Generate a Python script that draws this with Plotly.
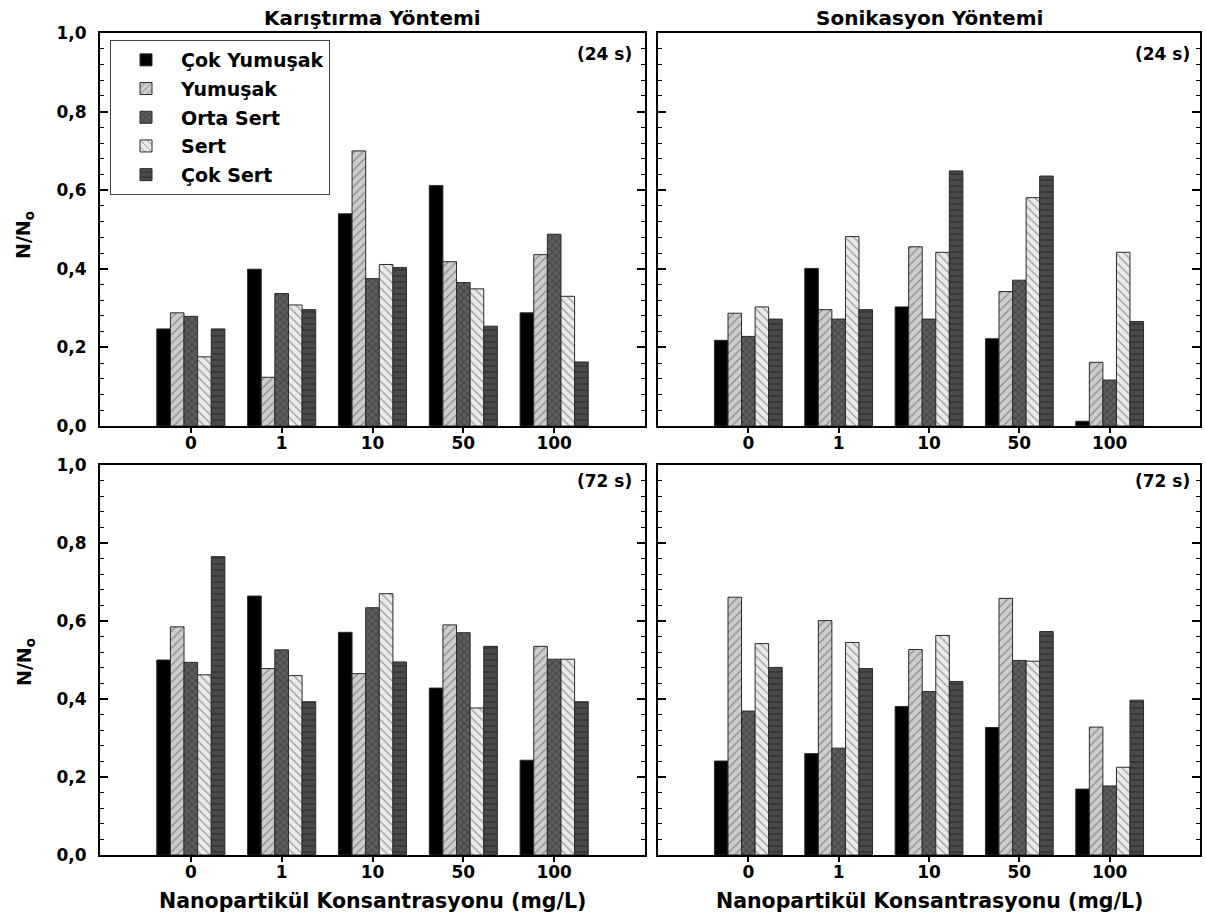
import plotly.graph_objects as go

categories = ["0", "1", "10", "50", "100"]
series_names = ["Çok Yumuşak", "Yumuşak", "Orta Sert", "Sert", "Çok Sert"]

# rows = series (in order of series_names), columns = categories
karistirma_24s = [
    [0.247, 0.399, 0.540, 0.612, 0.288],
    [0.288, 0.124, 0.700, 0.418, 0.436],
    [0.279, 0.337, 0.375, 0.365, 0.488],
    [0.176, 0.308, 0.411, 0.349, 0.330],
    [0.247, 0.296, 0.403, 0.254, 0.163],
]
sonikasyon_24s = [
    [0.218, 0.401, 0.303, 0.222, 0.012],
    [0.287, 0.296, 0.456, 0.342, 0.162],
    [0.228, 0.272, 0.272, 0.371, 0.117],
    [0.303, 0.482, 0.442, 0.581, 0.442],
    [0.272, 0.296, 0.649, 0.636, 0.266],
]
karistirma_72s = [
    [0.500, 0.664, 0.571, 0.428, 0.243],
    [0.585, 0.478, 0.465, 0.590, 0.535],
    [0.494, 0.526, 0.634, 0.570, 0.502],
    [0.462, 0.460, 0.670, 0.377, 0.502],
    [0.765, 0.393, 0.495, 0.535, 0.393],
]
sonikasyon_72s = [
    [0.241, 0.260, 0.381, 0.327, 0.169],
    [0.661, 0.601, 0.527, 0.658, 0.328],
    [0.369, 0.274, 0.419, 0.499, 0.177],
    [0.542, 0.545, 0.563, 0.497, 0.225],
    [0.481, 0.478, 0.445, 0.573, 0.397],
]

panel_titles = ["Karıştırma Yöntemi", "Sonikasyon Yöntemi"]
time_labels = ["(24 s)", "(72 s)"]
x_title = "Nanopartikül Konsantrasyonu (mg/L)"
y_title = "N/N<sub>o</sub>"

styles = [
    dict(color="#000000", pattern=dict(shape="")),
    dict(color="#c8c8c8", pattern=dict(shape="/", fgcolor="#444444", bgcolor="#cccccc", size=6, solidity=0.2)),
    dict(color="#555555", pattern=dict(shape="x", fgcolor="#1e1e1e", bgcolor="#5c5c5c", size=5, solidity=0.3)),
    dict(color="#e6e6e6", pattern=dict(shape="\\", fgcolor="#444444", bgcolor="#eaeaea", size=6, solidity=0.2)),
    dict(color="#444444", pattern=dict(shape="-", fgcolor="#1a1a1a", bgcolor="#4a4a4a", size=6, solidity=0.25)),
]

W, H = 1206, 919
xL = [100 / W, 645 / W]
xR = [658 / W, 1200 / W]
yT = [(H - 426) / H, (H - 33) / H]
yB = [(H - 855) / H, (H - 465) / H]

panels = [
    (karistirma_24s, "x", "y", xL, yT),
    (sonikasyon_24s, "x2", "y2", xR, yT),
    (karistirma_72s, "x3", "y3", xL, yB),
    (sonikasyon_72s, "x4", "y4", xR, yB),
]

FONT = "DejaVu Sans, Arial, sans-serif"

fig = go.Figure()
for pi, (data, xa, ya, xd, yd) in enumerate(panels):
    for si, name in enumerate(series_names):
        st = styles[si]
        fig.add_trace(go.Bar(
            x=categories, y=data[si], name=name, xaxis=xa, yaxis=ya,
            legendgroup=name, showlegend=(pi == 0),
            marker=dict(color=st["color"], pattern=st["pattern"],
                        line=dict(color="#2a2a2a", width=1)),
        ))

layout = dict(
    autosize=True,
    margin=dict(l=0, r=0, t=0, b=0, autoexpand=False),
    paper_bgcolor="white", plot_bgcolor="white",
    barmode="group", bargap=0.25, bargroupgap=0,
    separators=",.",
    font=dict(family=FONT, size=17, color="black", weight="bold"),
    showlegend=True,
    legend=dict(x=110 / W, y=(H - 40) / H, xanchor="left", yanchor="top",
                bgcolor="white", bordercolor="#444", borderwidth=1,
                font=dict(size=19, family=FONT, weight="bold"),
                itemwidth=60, tracegroupgap=1),
)

for pi, (data, xa, ya, xd, yd) in enumerate(panels):
    xkey = "xaxis" if pi == 0 else f"xaxis{pi + 1}"
    ykey = "yaxis" if pi == 0 else f"yaxis{pi + 1}"
    left = pi in (0, 2)
    layout[xkey] = dict(
        domain=xd, anchor=ya, type="category", range=[-1, 5], automargin=False,
        showline=True, linecolor="black", linewidth=2, mirror=True,
        ticks="outside", ticklen=5, tickwidth=1.5, tickcolor="black",
        ticklabelstandoff=-4,
        showgrid=False, zeroline=False,
        tickfont=dict(size=17, family=FONT, weight="bold"),
    )
    layout[ykey] = dict(
        domain=yd, anchor=xa, range=[0, 1.0], automargin=False,
        showline=True, linecolor="black", linewidth=2, mirror="ticks",
        ticks="inside", ticklen=8, tickwidth=1.5, tickcolor="black",
        dtick=0.2, tick0=0, tickformat=".1f",
        showticklabels=left, ticklabelstandoff=8,
        minor=dict(ticks="inside", dtick=0.04, ticklen=4, tickwidth=1.2, tickcolor="black"),
        showgrid=False, zeroline=False,
        tickfont=dict(size=17, family=FONT, weight="bold"),
    )

annotations = []
for ci, t in enumerate(panel_titles):
    xd = xL if ci == 0 else xR
    annotations.append(dict(text=t, x=(xd[0] + xd[1]) / 2, y=(H - 18) / H,
                            xref="paper", yref="paper", showarrow=False,
                            xanchor="center", yanchor="middle",
                            font=dict(size=20, family=FONT, weight="bold")))
    annotations.append(dict(text=x_title, x=(xd[0] + xd[1]) / 2, y=(H - 901) / H,
                            xref="paper", yref="paper", showarrow=False,
                            xanchor="center", yanchor="middle",
                            font=dict(size=20.5, family=FONT, weight="bold")))
for ri, t in enumerate(time_labels):
    yc = 54 if ri == 0 else 481
    for xr in (634 / W, 1192 / W):
        annotations.append(dict(text=t, x=xr, y=(H - yc) / H,
                                xref="paper", yref="paper", showarrow=False,
                                xanchor="right", yanchor="middle",
                                font=dict(size=17, family=FONT, weight="bold")))
for yc in (235, 662):
    annotations.append(dict(text=y_title, x=25 / W, y=(H - yc) / H,
                            xref="paper", yref="paper", showarrow=False,
                            xanchor="center", yanchor="middle", textangle=-90,
                            font=dict(size=19, family=FONT, weight="bold")))
layout["annotations"] = annotations

fig.update_layout(**layout)

post = (
    "var de=document.documentElement,b=document.body;"
    "de.style.margin='0';de.style.padding='0';b.style.margin='0';b.style.padding='0';"
    "de.style.overflow='hidden';b.style.overflow='hidden';"
    "var gd=document.getElementById('{plot_id}');"
    "if(gd){Plotly.Plots.resize(gd);}"
)
fig.write_html("out.html", config={"displayModeBar": False, "responsive": True},
               default_width="100vw", default_height="100vh", post_script=post)
